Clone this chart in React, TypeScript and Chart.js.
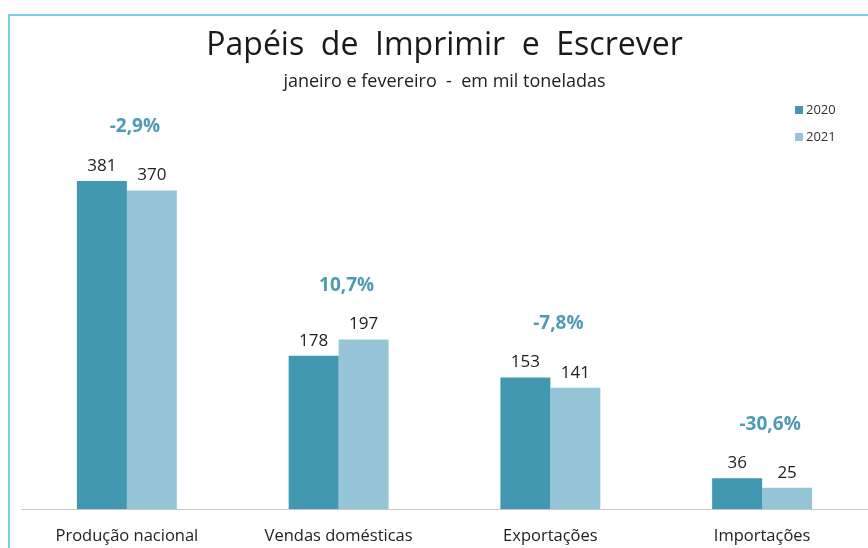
import React, { useEffect, useRef } from "react";
import { Chart, registerables } from "chart.js";

Chart.register(...registerables);

const categories = ["Produção nacional", "Vendas domésticas", "Exportações", "Importações"];
const values2020 = [381, 178, 153, 36];
const values2021 = [370, 197, 141, 25];
const changeLabels = ["-2,9%", "10,7%", "-7,8%", "-30,6%"];
const seriesLabels = ["2020", "2021"];

const FONT = "'Open Sans', 'Noto Sans', sans-serif";
const C2020 = "#4298b0";
const C2021 = "#95c5d7";
const PCT = "#4f9bb4";

const labelsPlugin = {
  id: "customLabels",
  afterDraw(chart: any) {
    const ctx = chart.ctx;
    const xs = chart.scales.x;
    ctx.save();
    // value labels
    chart.data.datasets.forEach((ds: any, di: number) => {
      const meta = chart.getDatasetMeta(di);
      meta.data.forEach((bar: any, i: number) => {
        ctx.font = `17px ${FONT}`;
        ctx.fillStyle = "#222";
        ctx.textAlign = "center";
        ctx.textBaseline = "alphabetic";
        ctx.fillText(String(ds.data[i]), bar.x, bar.y - 10);
      });
    });
    // change labels
    categories.forEach((_, i) => {
      const tops = chart.data.datasets.map((_d: any, di: number) => chart.getDatasetMeta(di).data[i].y);
      const top = Math.min(...tops);
      ctx.font = `bold 19px ${FONT}`;
      ctx.fillStyle = PCT;
      ctx.textAlign = "center";
      ctx.textBaseline = "middle";
      ctx.fillText(changeLabels[i], xs.getPixelForValue(i) + 8, top - 54);
    });
    // legend
    chart.data.datasets.forEach((ds: any, di: number) => {
      const y = 110 + di * 27;
      ctx.fillStyle = ds.backgroundColor;
      ctx.fillRect(795, y - 4, 8, 8);
      ctx.font = `13px ${FONT}`;
      ctx.fillStyle = "#333";
      ctx.textAlign = "left";
      ctx.textBaseline = "middle";
      ctx.fillText(ds.label, 806, y);
    });
    ctx.restore();
  },
};

export default function App() {
  const ref = useRef<HTMLCanvasElement | null>(null);
  useEffect(() => {
    if (!ref.current) return;
    const chart = new Chart(ref.current, {
      type: "bar",
      data: {
        labels: categories,
        datasets: [
          { label: seriesLabels[0], data: values2020, backgroundColor: C2020 },
          { label: seriesLabels[1], data: values2021, backgroundColor: C2021 },
        ],
      },
      options: {
        animation: false,
        responsive: false,
        maintainAspectRatio: false,
        layout: { padding: { left: 21, right: 0, top: 0, bottom: -15 } },
        datasets: { bar: { categoryPercentage: 0.472, barPercentage: 1 } },
        plugins: {
          legend: { display: false },
          tooltip: { enabled: false },
          title: {
            display: true,
            text: "Papéis  de  Imprimir  e  Escrever",
            color: "#1a1a1a",
            font: { family: FONT, size: 32, weight: "normal", lineHeight: 1.2 },
            padding: { top: 27, bottom: 0 },
          },
          subtitle: {
            display: true,
            text: "janeiro e fevereiro  -  em mil toneladas",
            color: "#222",
            font: { family: FONT, size: 18, weight: "normal", lineHeight: 1.2 },
            padding: { top: 5.8, bottom: 7.2 },
          },
        },
        scales: {
          x: {
            grid: { display: false, drawTicks: false },
            border: { display: true, color: "#c8c8c8", width: 1 },
            ticks: {
              color: "#222",
              font: { family: FONT, size: 16.5, lineHeight: 1.2 },
              padding: 17,
              maxRotation: 0,
            },
          },
          y: {
            display: false,
            min: 0,
            max: 475,
          },
        },
      },
      plugins: [labelsPlugin],
    });
    return () => chart.destroy();
  }, []);

  return (
    <div
      style={{
        position: "fixed",
        left: 0,
        top: 0,
        width: 868,
        height: 548,
        overflow: "hidden",
        background: "#fff",
      }}
    >
      <div
        style={{
          position: "absolute",
          left: 8,
          top: 14,
          width: 900,
          height: 600,
          border: "2px solid #7fcdea",
        }}
      />
      <canvas ref={ref} width={868} height={548} style={{ position: "absolute", left: 0, top: 0 }} />
    </div>
  );
}
